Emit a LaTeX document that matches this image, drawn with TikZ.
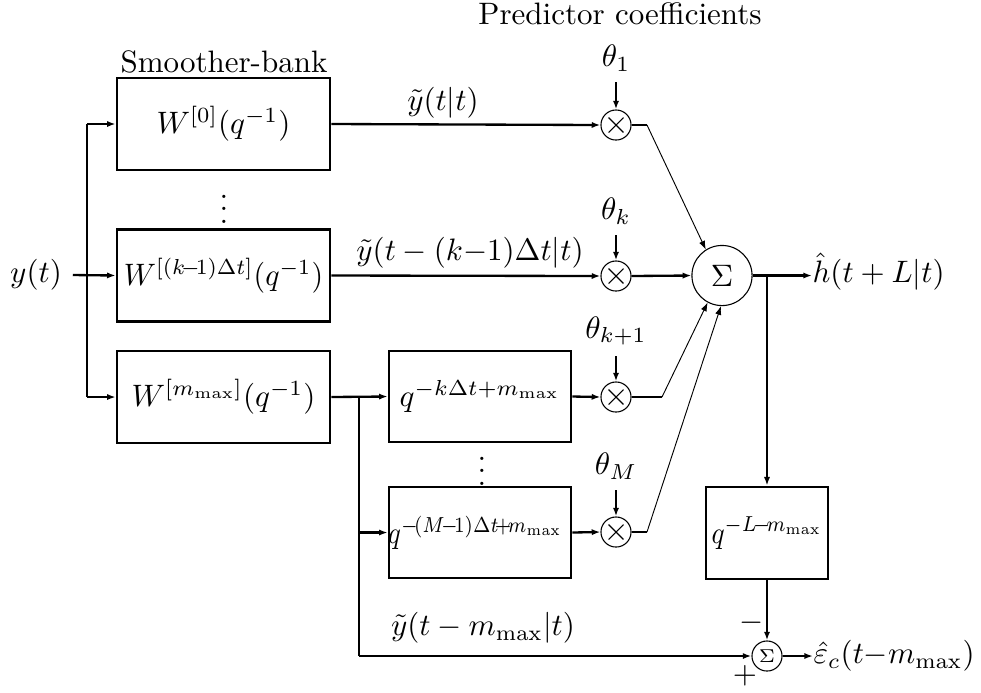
\documentclass[tikz,border=0pt]{standalone}
\usepackage{graphicx}
\usetikzlibrary{arrows.meta}
\begin{document}
\begin{tikzpicture}[x=0.3226pt,y=-0.3226pt,
  sig/.style={line width=0.75pt},
  thinsig/.style={line width=0.3pt},
  arr/.style={-{Latex[length=2.8pt,width=2pt]}},
  blk/.style={draw,line width=0.85pt,inner sep=0pt},
  mult/.style={circle,draw,line width=0.35pt,minimum size=9.7pt,inner sep=0pt,
    path picture={
      \draw[line width=0.35pt] ([shift={(-2.4pt,-2.4pt)}]path picture bounding box.center) -- ([shift={(2.4pt,2.4pt)}]path picture bounding box.center);
      \draw[line width=0.35pt] ([shift={(-2.4pt,2.4pt)}]path picture bounding box.center) -- ([shift={(2.4pt,-2.4pt)}]path picture bounding box.center);}},
  sumc/.style={circle,draw,line width=0.35pt,inner sep=0pt}
]
\useasboundingbox (0,0) rectangle (981,692);

% titles
\node (tsb) at (224,62) {Smoother-bank};
\node (tpc) at (620,14) {Predictor coefficients};

% smoother boxes
\node[blk,minimum width=68.7pt,minimum height=29.7pt] (W0) at (223.5,124) {\makebox[0pt]{$W^{[0]}(q^{-1})$}};
\node[blk,minimum width=68.7pt,minimum height=29.7pt] (Wk) at (223.5,275.5) {\makebox[0pt]{\scalebox{0.96}[1]{$W^{[(k\!-\!1)\Delta t]}(q^{-1})$}}};
\node[blk,minimum width=68.7pt,minimum height=29.7pt] (Wm) at (223.5,397) {\makebox[0pt]{$W^{[m_{\max}]}(q^{-1})$}};
\node (dots1) at (224,200) {$\vdots$};

% input
\node (yin) at (36,275) {$y(t)$};
\coordinate (b1) at (87,124);
\coordinate (b2) at (87,275.5);
\coordinate (b3) at (87,397);
\draw[sig,arr] (yin.east) -- (Wk.west);
\draw[sig] (b1) -- (b3);
\draw[sig,arr] (b1) -- (W0.west);
\draw[sig,arr] (b3) -- (Wm.west);

% delay boxes
\node[blk,minimum width=58.7pt,minimum height=29.3pt] (D1) at (480,396.5) {\makebox[0pt]{$q^{-k\Delta t+m_{\max}}$}};
\node[blk,minimum width=58.7pt,minimum height=29.3pt] (D2) at (480,532.5) {\makebox[0pt]{\hspace*{-3pt}\scalebox{0.86}[1]{$q^{-\!(M\!-\!1)\Delta t\!+\!m_{\max}}$}}};
\node (dots2) at (482,462) {$\vdots$};

% multipliers
\node[mult] (m1) at (616,125) {};
\node[mult] (mk) at (616,276) {};
\node[mult] (m3) at (616,397) {};
\node[mult] (m4) at (616,532) {};

\node (t1) at (616,58) {$\theta_1$};
\node (tk) at (616,211) {$\theta_k$};
\node (t3) at (616,331) {$\theta_{k+1}$};
\node (t4) at (616,466) {$\theta_M$};
\draw[sig,arr] (t1.south) -- (m1.north);
\draw[sig,arr] (tk.south) -- (mk.north);
\draw[sig,arr] (t3.south) -- (m3.north);
\draw[sig,arr] (t4.south) -- (m4.north);

% signal lines into multipliers
\draw[sig,arr] (W0.east) -- (m1.west);
\draw[sig,arr] (Wk.east) -- (mk.west);
\node (lab1) at (443,103) {$\tilde y(t|t)$};
\node (lab2) at (470,253) {$\tilde y(t-(k{-}1)\Delta t|t)$};

\coordinate (b4) at (359,397);
\coordinate (b5) at (359,656);
\coordinate (b6) at (359,532.5);
\draw[sig,arr] (Wm.east) -- (D1.west);
\draw[sig] (b4) -- (b5);
\draw[sig,arr] (b6) -- (D2.west);
\draw[sig,arr] (D1.east) -- (m3.west);
\draw[sig,arr] (D2.east) -- (m4.west);
\node (lab3) at (483,628) {$\tilde y(t-m_{\max}|t)$};

% summation
\node[sumc,minimum size=19.4pt] (sum) at (722,275.5) {$\Sigma$};
\coordinate (c1) at (647,125);
\coordinate (c3) at (662,397);
\coordinate (c4) at (647,532);
\draw[sig] (m1.east) -- (c1);
\draw[thinsig,arr] (c1) -- (sum.122);
\draw[sig,arr] (mk.east) -- (sum.west);
\draw[sig] (m3.east) -- (c3);
\draw[thinsig,arr] (c3) -- (sum.-118);
\draw[sig] (m4.east) -- (c4);
\draw[thinsig,arr] (c4) -- (sum.-92);

% output
\node[anchor=west,inner sep=0pt] (hout) at (812,272) {$\hat h(t+L|t)$};
\draw[sig,arr] (sum.east) -- (hout.west |- sum.east);
\coordinate (b7) at (767,275.5);
\node[blk,minimum width=39.3pt,minimum height=29.7pt] (LB) at (767,533) {\makebox[0pt]{\scalebox{0.88}[1]{$q^{-L\!-\!m_{\max}}$}}};
\draw[sig,arr] (b7) -- (LB.north);

% error sum
\node[sumc,minimum size=9.7pt] (s2) at (767,656) {\fontsize{6}{7}\selectfont$\Sigma$};
\draw[sig,arr] (LB.south) -- (s2.north);
\draw[sig,arr] (b5) -- (s2.west);
\node[anchor=west,inner sep=0pt] (eout) at (813,656) {$\hat\varepsilon_c(t{-}m_{\max})$};
\draw[sig,arr] (s2.east) -- (eout.west);
\node (minus) at (752,623) {$-$};
\node (plus) at (745,676) {$+$};
\end{tikzpicture}
\end{document}
